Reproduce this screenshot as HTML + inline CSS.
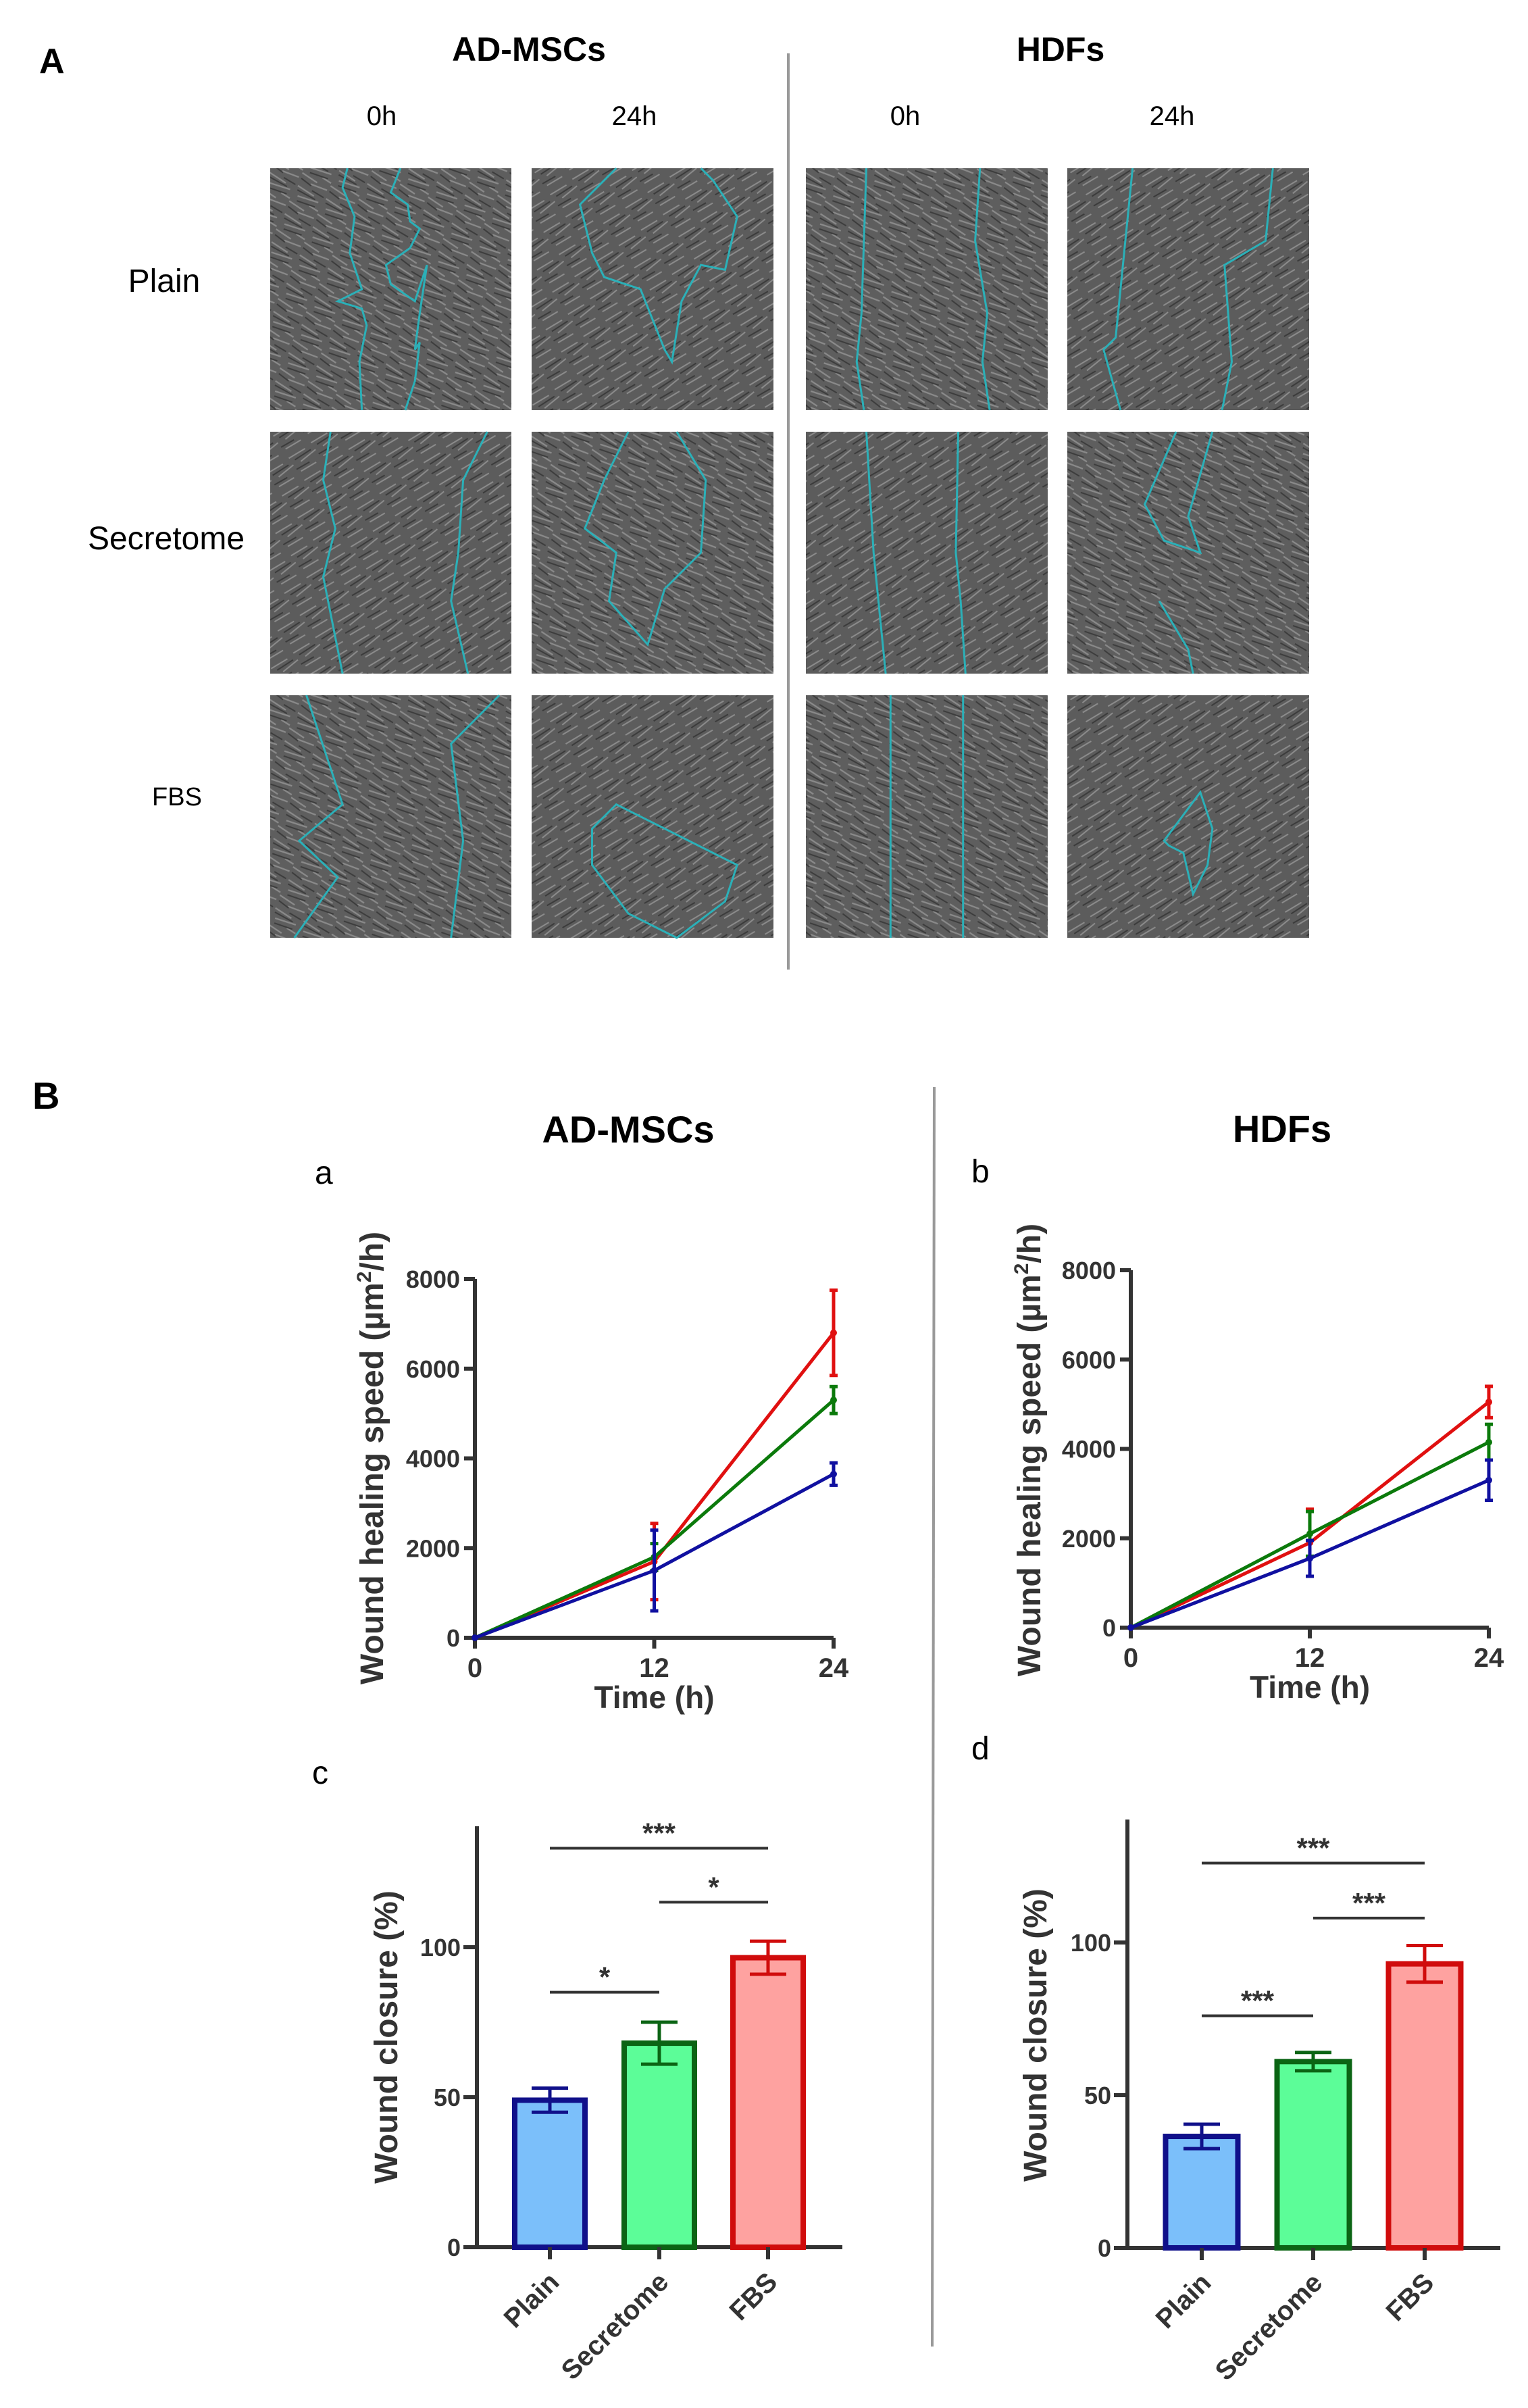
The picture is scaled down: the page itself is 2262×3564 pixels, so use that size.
<!DOCTYPE html>
<html><head><meta charset="utf-8">
<style>
html,body{margin:0;padding:0;background:#fff;}
svg{display:block;}
text{font-family:"Liberation Sans",sans-serif;}
</style></head>
<body>
<svg id="fig" width="2262" height="3564" viewBox="0 0 2262 3564" xmlns="http://www.w3.org/2000/svg">
<defs>
<pattern id="cells" width="46" height="46" patternUnits="userSpaceOnUse" patternTransform="rotate(25)">
<rect width="46" height="46" fill="#5e5e5e"/>
<path d="M2 6 L30 10 M8 20 L40 16 M0 32 L26 36 M18 42 L44 40 M30 26 L45 28" stroke="#8a8a8a" stroke-width="2.2"/>
<path d="M4 12 L34 14 M10 27 L38 24 M2 40 L20 44 M24 4 L44 6" stroke="#3c3c3c" stroke-width="2"/>
</pattern>
<pattern id="cells2" width="40" height="40" patternUnits="userSpaceOnUse" patternTransform="rotate(-35)">
<rect width="40" height="40" fill="#5c5c5c"/>
<path d="M0 8 L28 10 M12 22 L40 20 M4 34 L30 36" stroke="#8c8c8c" stroke-width="2"/>
<path d="M6 15 L34 16 M0 28 L22 30" stroke="#3a3a3a" stroke-width="2"/>
</pattern>
</defs>

<!-- Section A headers -->
<text x="58" y="108" font-size="52" font-weight="bold">A</text>
<text x="783" y="90" font-size="50" font-weight="bold" text-anchor="middle">AD-MSCs</text>
<text x="1570" y="90" font-size="50" font-weight="bold" text-anchor="middle">HDFs</text>
<text x="565" y="185" font-size="40" text-anchor="middle">0h</text>
<text x="939" y="185" font-size="40" text-anchor="middle">24h</text>
<text x="1340" y="185" font-size="40" text-anchor="middle">0h</text>
<text x="1735" y="185" font-size="40" text-anchor="middle">24h</text>
<text x="243" y="432" font-size="48" text-anchor="middle">Plain</text>
<text x="246" y="813" font-size="48" text-anchor="middle">Secretome</text>
<text x="262" y="1192" font-size="38" text-anchor="middle">FBS</text>
<line x1="1167" y1="79" x2="1167" y2="1435" stroke="#999" stroke-width="4"/>
<g id="micro"></g>

<!-- Section B -->
<text x="48" y="1641" font-size="56" font-weight="bold">B</text>
<text x="930" y="1691" font-size="56" font-weight="bold" text-anchor="middle">AD-MSCs</text>
<text x="1898" y="1690" font-size="56" font-weight="bold" text-anchor="middle">HDFs</text>
<line x1="1383" y1="1609" x2="1380" y2="3473" stroke="#999" stroke-width="4"/>
<text x="466" y="1752" font-size="48">a</text>
<text x="1438" y="1750" font-size="48">b</text>
<text x="462" y="2640" font-size="48">c</text>
<text x="1438" y="2604" font-size="48">d</text>
<g id="charts"></g>
</svg>
<script>
// ---- chart data ----
const timeCats = [0, 12, 24];
const yTicksLine = [0, 2000, 4000, 6000, 8000];
const aRed = [0, 1700, 6800];
const aRedErr = [0, 850, 950];
const aGreen = [0, 1800, 5300];
const aGreenErr = [0, 300, 300];
const aBlue = [0, 1500, 3650];
const aBlueErr = [0, 900, 250];
const bRed = [0, 1900, 5050];
const bRedErr = [0, 750, 350];
const bGreen = [0, 2100, 4150];
const bGreenErr = [0, 500, 400];
const bBlue = [0, 1550, 3300];
const bBlueErr = [0, 400, 450];
const barCats = ["Plain", "Secretome", "FBS"];
const yTicksBar = [0, 50, 100];
const cVals = [49, 68, 96.5];
const cErr = [4, 7, 5.5];
const dVals = [36.5, 61, 93];
const dErr = [4, 3, 6];
const cSig = [["***", 0, 2, 133], ["*", 1, 2, 115], ["*", 0, 1, 85]];
const dSig = [["***", 0, 2, 126], ["***", 1, 2, 108], ["***", 0, 1, 76]];

const NS = "http://www.w3.org/2000/svg";
const root = document.getElementById('charts');
function mk(tag, attrs, parent, txt) {
  const e = document.createElementNS(NS, tag);
  for (const k in attrs) e.setAttribute(k, attrs[k]);
  if (txt !== undefined) e.textContent = txt;
  (parent || root).appendChild(e);
  return e;
}
const AX = "#333";

function lineChart(cfg) {
  const g = mk('g', {});
  
  
  const sx = v => cfg.x0 + (v - 0) / 24 * (cfg.x1 - cfg.x0);
  const sy = v => cfg.y0 - v / 8000 * (cfg.y0 - cfg.y1);
  const ya = mk('line', {x1: cfg.x0, y1: sy(8000), x2: cfg.x0, y2: cfg.y0, stroke: AX, 'stroke-width': 6}, g);
  
  
  const xa = mk('line', {x1: cfg.x0 - 16, y1: cfg.y0, x2: cfg.x1, y2: cfg.y0, stroke: AX, 'stroke-width': 6}, g);
  
  
  yTicksLine.forEach(t => {
    mk('line', {x1: cfg.x0 - 16, y1: sy(t), x2: cfg.x0, y2: sy(t), stroke: AX, 'stroke-width': 6}, g);
    const tl = mk('text', {x: cfg.x0 - 22, y: sy(t) + 13, 'font-size': 36, 'font-weight': 'bold', fill: AX, 'text-anchor': 'end'}, g, String(t));
    
    
  });
  timeCats.forEach(t => {
    mk('line', {x1: sx(t), y1: cfg.y0, x2: sx(t), y2: cfg.y0 + 16, stroke: AX, 'stroke-width': 6}, g);
    const tl = mk('text', {x: sx(t), y: cfg.y0 + 58, 'font-size': 40, 'font-weight': 'bold', fill: AX, 'text-anchor': 'middle'}, g, String(t));
    
    
  });
  const xt = mk('text', {x: sx(12), y: cfg.y0 + 104, 'font-size': 46, 'font-weight': 'bold', fill: AX, 'text-anchor': 'middle'}, g, 'Time (h)');
  
  
  const yt = mk('text', {x: 0, y: 0, 'font-size': 48, 'font-weight': 'bold', fill: AX, 'text-anchor': 'middle', transform: `translate(${cfg.tx},${cfg.ty}) rotate(-90)`}, g);
  
  
  yt.appendChild(document.createTextNode('Wound healing speed (\u00b5m'));
  mk('tspan', {'font-size': 30, dy: -18}, yt, '2');
  mk('tspan', {dy: 18}, yt, '/h)');
  cfg.series.forEach(s => {
    const pts = s.vals.map((v, i) => sx(timeCats[i]) + ',' + sy(v)).join(' ');
    const pl = mk('polyline', {points: pts, fill: 'none', stroke: s.color, 'stroke-width': 5}, g);
    
    
    s.vals.forEach((v, i) => {
      const x = sx(timeCats[i]);
      if (s.err[i] > 0) {
        const hi = sy(v + s.err[i]), lo = sy(v - s.err[i]);
        mk('path', {d: `M${x},${hi} L${x},${lo} M${x-6},${hi} L${x+6},${hi} M${x-6},${lo} L${x+6},${lo}`, stroke: s.color, 'stroke-width': 5, fill: 'none'}, g);
      }
      const c = mk('circle', {cx: x, cy: sy(v), r: 5, fill: s.color}, g);
      
      
    });
  });
}

lineChart({name: 'chart-a-speed', x0: 703, x1: 1234, y0: 2424, y1: 1893, tx: 567, ty: 2158,
  series: [{name: 'fbs', vals: aRed, err: aRedErr, color: '#e01010'},
           {name: 'secretome', vals: aGreen, err: aGreenErr, color: '#0b7a0b'},
           {name: 'plain', vals: aBlue, err: aBlueErr, color: '#1010a0'}]});
lineChart({name: 'chart-b-speed', x0: 1674, x1: 2204, y0: 2409, y1: 1880, tx: 1540, ty: 2146,
  series: [{name: 'fbs', vals: bRed, err: bRedErr, color: '#e01010'},
           {name: 'secretome', vals: bGreen, err: bGreenErr, color: '#0b7a0b'},
           {name: 'plain', vals: bBlue, err: bBlueErr, color: '#1010a0'}]});

function barChart(cfg) {
  const g = mk('g', {});
  
  
  const sy = v => cfg.y0 - v / 100 * (cfg.y0 - cfg.y100);
  const fills = ['#7bbffa', '#5cfd98', '#fea2a0'];
  const strokes = ['#10108a', '#0b6414', '#d00c0c'];
  const ya = mk('line', {x1: cfg.x0, y1: cfg.top, x2: cfg.x0, y2: cfg.y0, stroke: AX, 'stroke-width': 6}, g);
  
  
  const xa = mk('line', {x1: cfg.x0 - 20, y1: cfg.y0, x2: cfg.x1, y2: cfg.y0, stroke: AX, 'stroke-width': 6}, g);
  
  
  yTicksBar.forEach(t => {
    mk('line', {x1: cfg.x0 - 20, y1: sy(t), x2: cfg.x0, y2: sy(t), stroke: AX, 'stroke-width': 6}, g);
    const tl = mk('text', {x: cfg.x0 - 24, y: sy(t) + 13, 'font-size': 36, 'font-weight': 'bold', fill: AX, 'text-anchor': 'end'}, g, String(t));
    
    
  });
  const yt = mk('text', {x: 0, y: 0, 'font-size': 48, 'font-weight': 'bold', fill: AX, 'text-anchor': 'middle', transform: `translate(${cfg.tx},${cfg.ty}) rotate(-90)`}, g, 'Wound closure (%)');
  
  
  barCats.forEach((c, i) => {
    const cx = cfg.cx[i];
    const v = cfg.vals[i], e = cfg.err[i];
    const r = mk('rect', {x: cx - cfg.bw / 2, y: sy(v), width: cfg.bw, height: cfg.y0 - sy(v), fill: fills[i], stroke: strokes[i], 'stroke-width': 8}, g);
    
    
    const hi = sy(v + e), lo = sy(v - e);
    mk('path', {d: `M${cx},${hi} L${cx},${lo} M${cx-27},${hi} L${cx+27},${hi} M${cx-27},${lo} L${cx+27},${lo}`, stroke: strokes[i], 'stroke-width': 5, fill: 'none'}, g);
    mk('line', {x1: cx, y1: cfg.y0, x2: cx, y2: cfg.y0 + 18, stroke: AX, 'stroke-width': 6}, g);
    const tl = mk('text', {x: 0, y: 0, 'font-size': 40, 'font-weight': 'bold', fill: AX, 'text-anchor': 'end', transform: `translate(${cx + 16},${cfg.y0 + 54}) rotate(-45)`}, g, c);
    
    
  });
  cfg.sig.forEach(s => {
    const y = sy(s[3]);
    const xa1 = cfg.cx[s[1]], xa2 = cfg.cx[s[2]];
    const l = mk('line', {x1: xa1, y1: y, x2: xa2, y2: y, stroke: AX, 'stroke-width': 4}, g);
    
    
    const t = mk('text', {x: (xa1 + xa2) / 2, y: y - 8, 'font-size': 42, 'font-weight': 'bold', fill: AX, 'text-anchor': 'middle'}, g, s[0]);
    
    
  });
}
barChart({name: 'chart-c-closure', x0: 706, x1: 1247, y0: 3326, y100: 2882, top: 2703, cx: [814, 976, 1137], bw: 104, vals: cVals, err: cErr, sig: cSig, tx: 588, ty: 3015});
barChart({name: 'chart-d-closure', x0: 1669, x1: 2221, y0: 3327, y100: 2875, top: 2693, cx: [1779, 1944, 2109], bw: 107, vals: dVals, err: dErr, sig: dSig, tx: 1549, ty: 3012});

// ---- micrograph panels ----
const colX = [[400, 757], [787, 1145], [1193, 1551], [1580, 1938]];
const rowY = [[249, 607], [639, 997], [1029, 1388]];
const outlines = [
 ["M32,0 L30,8 L35,20 L33,35 L38,50 L28,55 L38,58 L40,65 L37,80 L38,100", "M54,0 L50,10 L57,15 L58,22 L62,25 L58,33 L48,40 L50,48 L60,55 L65,40 L62,60 L60,75 L62,72 L60,88 L56,100"],
 ["M35,0 L20,15 L25,35 L30,45 L45,50 L55,75 L58,80 L62,55 L70,40 L80,42 L85,20 L75,5 L70,0"],
 ["M25,0 L24,30 L23,60 L21,80 L24,100", "M72,0 L70,30 L75,60 L73,80 L76,100"],
 ["M27,0 L23,40 L20,70 L15,75 L22,100", "M85,0 L82,30 L65,40 L68,80 L64,100"],
 ["M25,0 L22,20 L27,40 L22,60 L30,100", "M90,0 L80,20 L78,50 L75,70 L82,100"],
 ["M40,0 L30,20 L22,40 L35,50 L32,70 L48,88 L55,65 L70,50 L72,20 L60,0"],
 ["M25,0 L28,50 L33,100", "M63,0 L62,50 L64,70 L66,100"],
 ["M45,0 L32,30 L40,45 L55,50 L50,35 L60,0", "M38,70 L50,90 L52,100"],
 ["M15,0 L30,45 L12,60 L28,75 L10,100", "M95,0 L75,20 L80,60 L75,100"],
 ["M25,55 L35,45 L55,55 L85,70 L80,85 L60,100 L40,90 L25,70 Z"],
 ["M35,0 L35,100", "M65,0 L65,100"],
 ["M40,60 L55,40 L60,55 L58,70 L52,82 L48,65 L42,62 Z"]
];
const mg = document.getElementById('micro');
rowY.forEach((ry, r) => colX.forEach((cx, c) => {
  const w = cx[1] - cx[0], h = ry[1] - ry[0];
  const p = mk('g', {transform: `translate(${cx[0]},${ry[0]})`}, mg);
  
  
  mk('rect', {x: 0, y: 0, width: w, height: h, fill: (r + c) % 2 ? 'url(#cells2)' : 'url(#cells)'}, p);
  const s = mk('g', {transform: `scale(${w / 100},${h / 100})`}, p);
  outlines[r * 4 + c].forEach(d => mk('path', {d: d, fill: 'none', stroke: '#2bb0b8', 'stroke-width': 3, 'vector-effect': 'non-scaling-stroke'}, s));
}));
</script>
</body></html>
